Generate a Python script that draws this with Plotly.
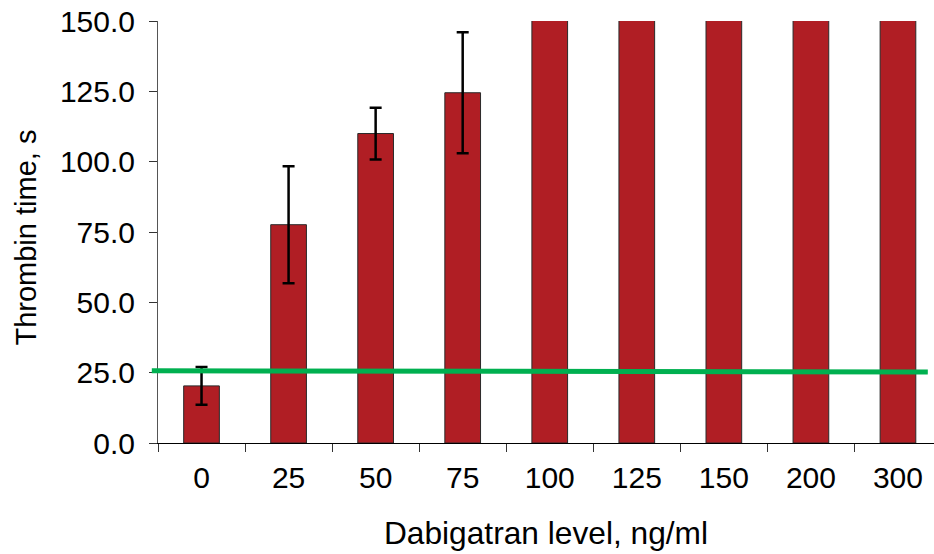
import plotly.graph_objects as go

categories = ["0", "25", "50", "75", "100", "125", "150", "200", "300"]
# bars for 100 ng/ml and above run off the top of the 150 s scale
thrombin_time = [20.3, 77.6, 110.0, 124.5, 160.0, 160.0, 160.0, 160.0, 160.0]
error_sd = [6.7, 20.8, 9.2, 21.5, None, None, None, None, None]
reference_line_y = [25.7, 25.2]

y_ticks = [0, 25, 50, 75, 100, 125, 150]
x_title = "Dabigatran level, ng/ml"
y_title = "Thrombin time, s"

FONT = "Liberation Sans, Arial, sans-serif"
x_pos = list(range(len(categories)))

fig = go.Figure()
fig.add_trace(go.Bar(
    x=x_pos,
    y=thrombin_time,
    width=0.41,
    marker=dict(color="#B01E24", line=dict(color="#2a2a2a", width=1)),
    error_y=dict(type="data", array=[e if e is not None else 0 for e in error_sd],
                 visible=True, color="black", thickness=2.5, width=6),
    showlegend=False,
))

fig.add_shape(type="line", xref="x domain", yref="y",
              x0=-0.008, x1=0.992, y0=reference_line_y[0], y1=reference_line_y[1],
              line=dict(color="#00B050", width=5), layer="above")

fig.add_annotation(text=y_title, xref="paper", yref="paper",
                   x=-0.170, y=0.487, xanchor="center", yanchor="middle",
                   textangle=-90, showarrow=False,
                   font=dict(family=FONT, size=29, color="black"))

fig.update_layout(
    width=934, height=554,
    margin=dict(l=158, r=0, t=21, b=111),
    paper_bgcolor="white", plot_bgcolor="white",
    font=dict(family=FONT, size=30, color="black"),
    xaxis=dict(
        range=[-0.5, 8.414], automargin=False,
        tickmode="array", tickvals=x_pos, ticktext=categories,
        ticks="", showline=True, linecolor="black", linewidth=1,
        showgrid=False, zeroline=False,
        ticklabelstandoff=8,
        tickfont=dict(size=30),
        minor=dict(tickmode="array", tickvals=[i - 0.5 for i in range(10)],
                   ticks="outside", ticklen=8, tickcolor="#333", tickwidth=1),
        title=dict(text=x_title, font=dict(size=31.7), standoff=28),
    ),
    yaxis=dict(
        range=[0, 150], automargin=False,
        tickmode="array", tickvals=y_ticks, tickformat=".1f",
        ticks="outside", ticklen=8, tickcolor="#333", tickwidth=1,
        showline=True, linecolor="#555", linewidth=1,
        showgrid=False, zeroline=False,
        ticklabelstandoff=8,
        tickfont=dict(size=30),
    ),
)

fig.write_html("out.html", config={"displayModeBar": False},
               post_script="document.body.style.margin='0';")
